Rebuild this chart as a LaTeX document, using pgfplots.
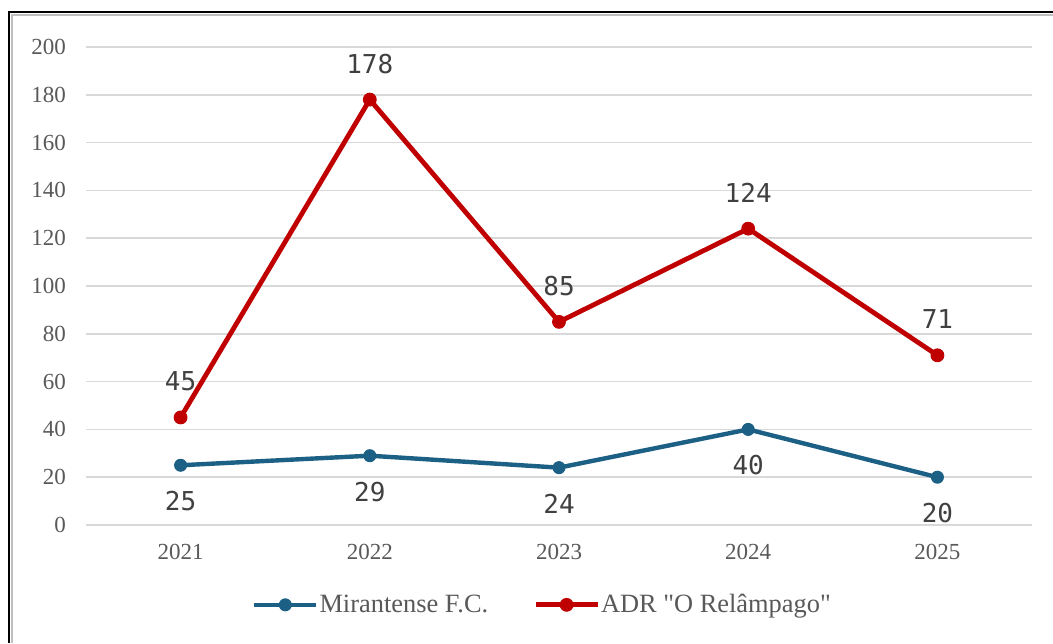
\documentclass[border=0pt]{standalone}
\usepackage{fontspec}
\setmainfont{Liberation Serif}
\newfontfamily\lblfont{DejaVu Sans Mono}
\usepackage{pgfplots}
\pgfplotsset{compat=1.18}
\definecolor{redline}{RGB}{192,0,0}
\definecolor{blueline}{RGB}{29,96,133}
\definecolor{txtgray}{RGB}{89,89,89}
\definecolor{lblgray}{RGB}{64,64,64}
\definecolor{gridgray}{RGB}{217,217,217}
\begin{document}
\begin{tikzpicture}
\useasboundingbox (0,0) rectangle (526.5pt,-321.5pt);
\fill[white] (0,0) rectangle (526.5pt,-321.5pt);
\draw[black, line width=1pt] (4.5pt,-321.5pt) -- (4.5pt,-6.2pt) -- (526.5pt,-6.2pt);
\draw[black!25, line width=0.8pt] (5.9pt,-321.5pt) -- (5.9pt,-7.6pt) -- (526.5pt,-7.6pt);
\begin{axis}[
  at={(43pt,-262.5pt)}, anchor=south west,
  width=473pt, height=239pt, scale only axis,
  xmin=-0.5, xmax=4.5, ymin=0, ymax=200,
  xtick={0,1,2,3,4}, xticklabels={2021,2022,2023,2024,2025},
  ytick={0,20,...,200},
  axis line style={draw=none}, major tick length=0pt,
  ymajorgrids, grid style={gridgray, line width=0.75pt},
  /pgf/number format/assume math mode=true,
  tick label style={font=\fontsize{11.5}{13}\selectfont, text=txtgray},
  yticklabel style={xshift=-6.5pt},
  xticklabel style={yshift=-6pt},
  clip=false,
  legend style={at={(axis description cs:0.482,-0.167)}, anchor=center,
    draw=none, fill=none, font=\fontsize{13.2}{15}\selectfont, text=txtgray,
    legend columns=2, /tikz/every even column/.append style={column sep=22pt},
    nodes={inner xsep=0.5pt}},
  legend image code/.code={\draw[mark repeat=2,mark phase=2,#1] plot coordinates {(0pt,0pt)(15.5pt,0pt)(31pt,0pt)};},
]
\addplot[blueline, line width=2.2pt, line join=round, mark=*, mark size=3pt,
  mark options={solid, line width=0.5pt},
  nodes near coords,
  every node near coord/.append style={font=\lblfont\fontsize{13}{15}\selectfont, text=lblgray, anchor=center, yshift=-18pt}]
  coordinates {(0,25) (1,29) (2,24) (3,40) (4,20)};
\addlegendentry{Mirantense F.C.}
\addplot[redline, line width=2.4pt, line join=round, mark=*, mark size=3.2pt,
  mark options={solid, line width=0.5pt},
  nodes near coords,
  every node near coord/.append style={font=\lblfont\fontsize{13}{15}\selectfont, text=lblgray, anchor=center, yshift=18pt}]
  coordinates {(0,45) (1,178) (2,85) (3,124) (4,71)};
\addlegendentry{ADR \textquotedbl O Relâmpago\textquotedbl}
\end{axis}
\end{tikzpicture}
\end{document}
